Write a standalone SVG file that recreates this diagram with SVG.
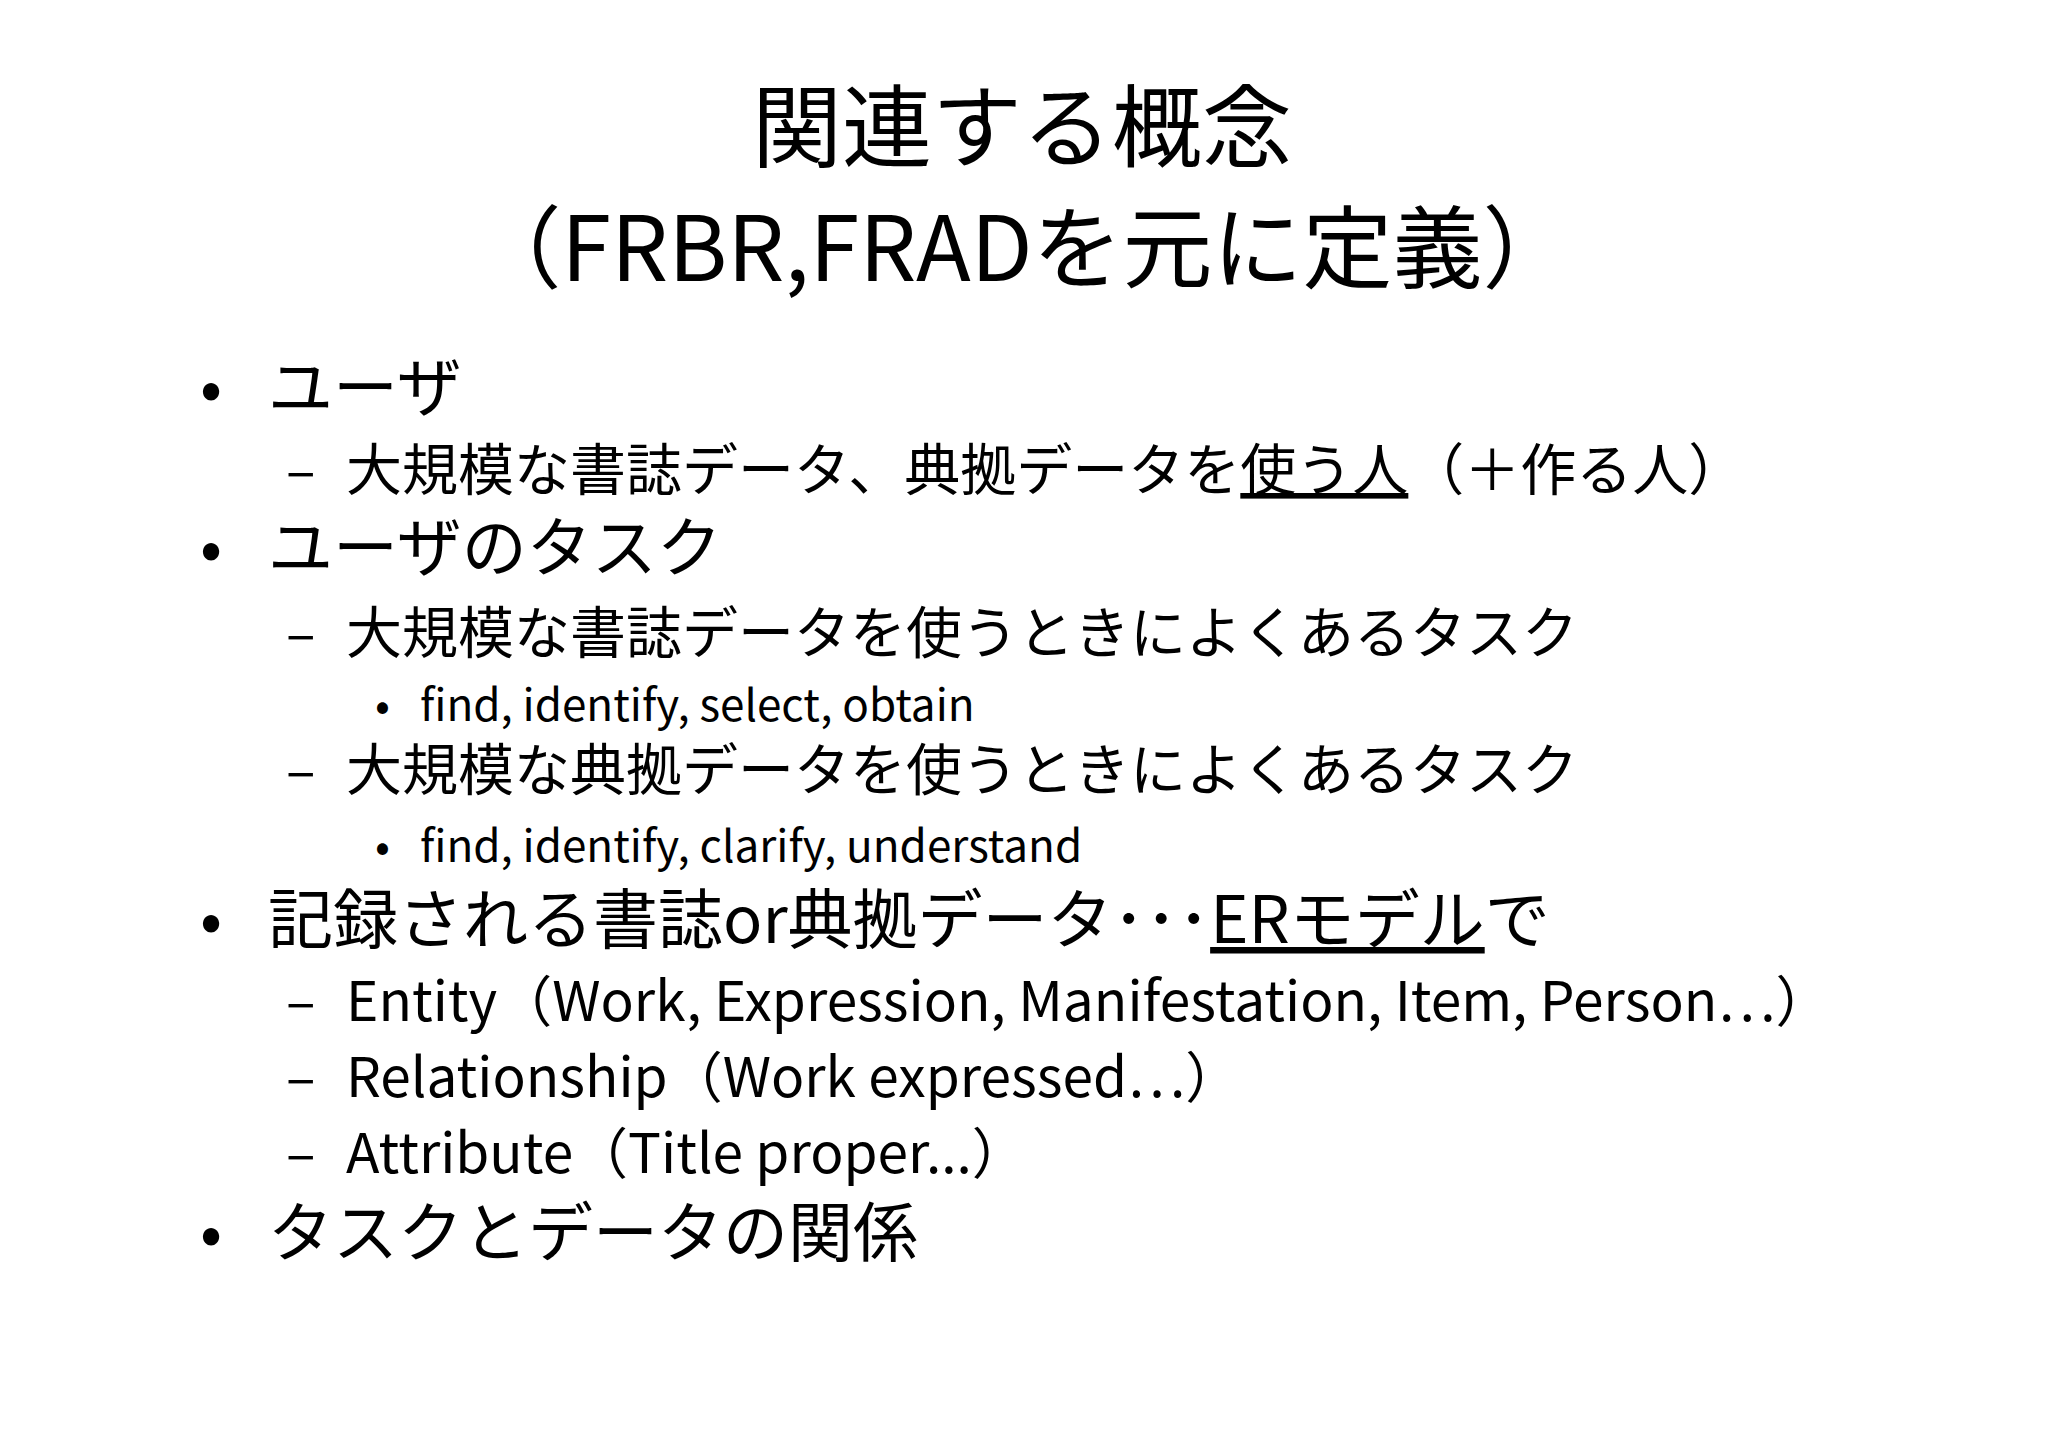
<svg xmlns="http://www.w3.org/2000/svg" width="2048" height="1448" viewBox="0 0 2048 1448">
<style>
text{font-family:"Noto Sans CJK JP","Noto Sans",sans-serif;fill:#000}
.t{font-size:90px;text-anchor:middle}
.b1{font-size:65px}
.b2{font-size:55px}
.j{font-size:56px}
.b3{font-size:44px}
.u{text-decoration:underline}
</style>
<rect width="2048" height="1448" fill="#fff"/>
<g id="title">
<text class="t" x="1022" y="160">関連する概念</text>
<text class="t" x="1022" y="281">（FRBR,FRADを元に定義）</text>
</g>
<g id="body">
<text class="b1" x="200" y="411">•</text><text class="b1" x="268" y="411">ユーザ</text>
<text class="b2" x="286" y="490">–</text><text class="j" x="346" y="490">大規模な書誌データ、典拠データを<tspan class="u">使う人</tspan>（＋作る人）</text>
<text class="b1" x="200" y="571">•</text><text class="b1" x="268" y="571">ユーザのタスク</text>
<text class="b2" x="286" y="653">–</text><text class="j" x="346" y="653">大規模な書誌データを使うときによくあるタスク</text>
<text class="b3" x="375" y="721">•</text><text class="b3" x="420" y="721">find, identify, select, obtain</text>
<text class="b2" x="286" y="790">–</text><text class="j" x="346" y="790">大規模な典拠データを使うときによくあるタスク</text>
<text class="b3" x="375" y="862">•</text><text class="b3" x="420" y="862">find, identify, clarify, understand</text>
<text class="b1" x="200" y="943">•</text><text class="b1" x="268" y="943">記録される書誌or典拠データ･･･<tspan class="u">ERモデル</tspan>で</text>
<text class="b2" x="286" y="1021">–</text><text class="b2" x="346" y="1021">Entity（Work, Expression, Manifestation, Item, Person…）</text>
<text class="b2" x="286" y="1097">–</text><text class="b2" x="346" y="1097">Relationship（Work expressed…）</text>
<text class="b2" x="286" y="1173">–</text><text class="b2" x="346" y="1173">Attribute（Title proper...）</text>
<text class="b1" x="200" y="1256">•</text><text class="b1" x="268" y="1256">タスクとデータの関係</text>
</g>
</svg>
